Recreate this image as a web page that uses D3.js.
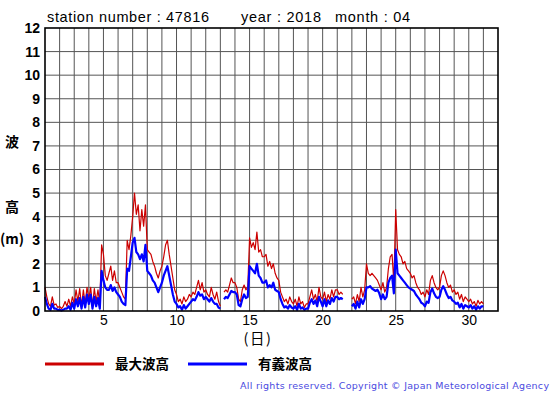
<!DOCTYPE html>
<html>
<head>
<meta charset="utf-8">
<script src="https://cdn.jsdelivr.net/npm/d3@7"></script>
<style>
  body { margin: 0; background: #fff; }
  svg { display: block; font-family: "Liberation Sans", Arial, Helvetica, sans-serif; }
</style>
</head>
<body>
<div id="chart"></div>
<script>
// 3-hourly samples, starting day 1 00:00 (8 per day)
let startDay = 1
let stepsPerDay = 8

let maxWave = [
    1.0, 0.6, 0.3, 0.2, 0.6, 0.25, 0.3, 0.15,
    0.2, 0.1, 0.2, 0.4, 0.2, 0.5, 0.2, 0.6,
    0.3, 0.9, 0.4, 0.95, 0.2, 0.9, 0.3, 1.0,
    0.5, 1.0, 0.2, 0.95, 0.4, 0.9, 0.3, 2.8,
    2.4, 1.5, 1.3, 1.6, 1.9, 1.3, 1.7, 1.2,
    1.2, 1.0, 0.8, 0.6, 0.5, 3.0, 2.6, 3.2,
    4.0, 5.0, 4.1, 4.5, 3.4, 4.3, 3.6, 4.5,
    2.6, 2.5, 2.4, 2.1, 1.9, 1.6, 1.4, 1.7,
    1.9, 2.3, 2.8, 3.0, 2.4, 1.9, 1.4, 0.9,
    0.7, 0.4, 0.5, 0.3, 0.6, 0.4, 0.5, 0.7,
    0.6, 0.8, 0.7, 1.0, 1.3, 0.9, 1.2, 0.8,
    0.9, 0.7, 0.6, 1.0, 0.7, 0.5, 0.8, 0.4,
    0.2, null, 0.8, 0.9, 0.8, 1.1, 1.4, 1.2,
    1.2, 1.0, 0.5, 0.4, 0.9, 1.1, 0.9, 1.0,
    3.1, 2.7, 2.9, 2.6, 3.35, 2.5, 2.6, 2.3,
    2.3, 2.4, 1.9, 2.1, 1.8, 2.0, 1.6, 1.4,
    1.3, 0.8, 0.6, 0.4, 0.5, 0.3, 0.6, 0.4,
    0.3, 0.5, 0.2, 0.6, 0.3, 0.4, 0.15, 0.3,
    0.3, 0.6, 0.9, 0.5, 0.7, 0.4, 1.0, 0.6,
    0.5, 0.8, 0.4, 0.7, 0.5, 0.9, 0.6, 0.9,
    0.9, 0.7, 0.8, 0.7, null, null, null, null,
    0.5, 0.6, 0.3, 0.7, 0.4, 1.0, 0.6, 0.9,
    2.0, 1.6, 1.5, 1.6, 1.5, 1.4, 1.3, 1.1,
    0.9, 1.2, 0.8, 1.0, 1.8, 2.3, 2.4, 1.2,
    4.3, 2.6, 2.4, 2.3, 2.0, 2.1, 1.8, 1.7,
    1.6, 1.4, 1.5, 1.2, 1.0, 0.9, 0.7, 0.8,
    0.6, 0.9, 0.7, 1.3, 1.5, 1.2, 1.0, 0.9,
    1.0, 1.5, 1.7, 1.5, 1.2, 1.0, 1.1, 0.8,
    0.9, 0.7, 0.8, 0.5, 0.7, 0.4, 0.6, 0.5,
    0.4, 0.5, 0.3, 0.4, 0.2, 0.45, 0.3, 0.4,
    0.3
]

let sigWave = [
    0.6, 0.3, 0.1, 0.05, 0.3, 0.1, 0.1, 0.05,
    0.05, 0.02, 0.05, 0.1, 0.1, 0.2, 0.05, 0.35,
    0.1, 0.5, 0.2, 0.55, 0.1, 0.6, 0.15, 0.7,
    0.3, 0.7, 0.1, 0.6, 0.2, 0.55, 0.1, 1.7,
    1.3, 1.0, 0.9, 0.9, 1.1, 0.85, 1.0, 0.8,
    0.7, 0.6, 0.4, 0.3, 0.25, 1.8, 1.7, 2.3,
    2.9, 3.1, 2.5, 2.4, 2.2, 2.4, 2.1, 2.8,
    1.7, 1.6, 1.5, 1.3, 1.2, 1.0, 0.8, 1.0,
    1.2, 1.5, 1.7, 1.9, 1.5, 1.1, 0.7, 0.4,
    0.3, 0.15, 0.2, 0.05, 0.25, 0.1, 0.2, 0.3,
    0.4, 0.5, 0.45, 0.6, 0.8, 0.65, 0.7, 0.5,
    0.6, 0.5, 0.4, 0.55, 0.4, 0.3, 0.3, 0.15,
    0.1, null, 0.5, 0.6, 0.55, 0.7, 0.85, 0.8,
    0.8, 0.7, 0.25, 0.2, 0.5, 0.7, 0.55, 0.6,
    1.9, 1.8, 1.7, 1.6, 2.0, 1.5, 1.4, 1.2,
    1.2, 1.3, 1.0, 1.1, 1.0, 1.2, 0.9, 0.85,
    0.8, 0.5, 0.3, 0.15, 0.2, 0.1, 0.25, 0.15,
    0.1, 0.2, 0.05, 0.3, 0.1, 0.15, 0.05, 0.1,
    0.1, 0.35, 0.5, 0.3, 0.45, 0.2, 0.6, 0.4,
    0.2, 0.5, 0.2, 0.45, 0.3, 0.55, 0.4, 0.6,
    0.6, 0.5, 0.55, 0.5, null, null, null, null,
    0.2, 0.3, 0.1, 0.4, 0.15, 0.5, 0.3, 0.5,
    1.0, 1.0, 1.05, 0.95, 0.9, 0.85, 0.9, 0.75,
    0.5, 0.7, 0.5, 0.6, 1.2, 1.4, 1.5, 0.75,
    2.6, 1.6, 1.5, 1.4, 1.3, 1.2, 1.1, 1.0,
    0.95, 0.9, 0.85, 0.7, 0.6, 0.5, 0.35, 0.3,
    0.2, 0.4, 0.35, 0.8, 0.95, 0.75, 0.6, 0.55,
    0.6, 0.9, 1.05, 0.9, 0.7, 0.55, 0.6, 0.45,
    0.4, 0.3, 0.35, 0.15, 0.3, 0.1, 0.25, 0.2,
    0.15, 0.25, 0.1, 0.2, 0.05, 0.2, 0.1, 0.2,
    0.2
]

let xTicks = [5, 10, 15, 20, 25, 30]
let yTicks = [0, 1, 2, 3, 4, 5, 6, 7, 8, 9, 10, 11, 12]
let dayDomain = [1, 32]
let heightDomain = [0, 12]

let titleParts = [
    { text: "station number : 47816", x: 47, w: 162 },
    { text: "year : 2018", x: 241, w: 80 },
    { text: "month : 04", x: 335, w: 75 }
]
let legendItems = [
    { label: "最大波高", color: "#cc0000" },
    { label: "有義波高", color: "#0000ff" }
]

let width = 555
let height = 395
let margin = { left: 45, top: 28, right: 57, bottom: 84 }
let innerwidth = width - margin.left - margin.right
let innerheight = height - margin.top - margin.bottom

let svg = d3.select('#chart')
    .append('svg')
    .attr("width", width)
    .attr("height", height)

svg.append("rect")
    .attr("width", width)
    .attr("height", height)
    .attr("fill", "#fff")

let x = d3.scaleLinear()
    .domain(dayDomain)
    .range([margin.left, margin.left + innerwidth])
let y = d3.scaleLinear()
    .domain(heightDomain)
    .range([margin.top + innerheight, margin.top])

// grid
let grid = svg.append("g")
grid.selectAll(".vgrid")
    .data(d3.range(dayDomain[0] + 1, dayDomain[1]))
    .enter()
    .append("line")
    .attr("x1", d => x(d))
    .attr("x2", d => x(d))
    .attr("y1", y(heightDomain[0]))
    .attr("y2", y(heightDomain[1]))
    .attr("stroke", "#555")
    .attr("stroke-width", 1)
grid.selectAll(".hgrid")
    .data(yTicks.slice(1, -1))
    .enter()
    .append("line")
    .attr("x1", x(dayDomain[0]))
    .attr("x2", x(dayDomain[1]))
    .attr("y1", d => y(d))
    .attr("y2", d => y(d))
    .attr("stroke", "#555")
    .attr("stroke-width", 1)

// series
function toPoints(values) {
    return values.map((v, i) => ({ t: startDay + i / stepsPerDay, v: v }))
}
let line = d3.line()
    .defined(d => d.v !== null)
    .x(d => x(d.t))
    .y(d => y(d.v))

svg.append("path")
    .datum(toPoints(maxWave))
    .attr("d", line)
    .attr("fill", "none")
    .attr("stroke", "#cc0000")
    .attr("stroke-width", 1.2)
    .attr("stroke-linejoin", "round")
svg.append("path")
    .datum(toPoints(sigWave))
    .attr("d", line)
    .attr("fill", "none")
    .attr("stroke", "#0000ff")
    .attr("stroke-width", 2.2)
    .attr("stroke-linejoin", "round")

// frame
svg.append("rect")
    .attr("x", x(dayDomain[0]))
    .attr("y", y(heightDomain[1]))
    .attr("width", x(dayDomain[1]) - x(dayDomain[0]))
    .attr("height", y(heightDomain[0]) - y(heightDomain[1]))
    .attr("fill", "none")
    .attr("stroke", "#000")
    .attr("stroke-width", 1.6)

// axes
let yAxis = svg.append("g")
    .attr("transform", "translate(" + margin.left + ",0)")
    .call(d3.axisLeft(y).tickValues(yTicks).tickSize(0).tickPadding(5).tickFormat(d3.format("d")))
yAxis.select(".domain").remove()
yAxis.selectAll("text")
    .attr("fill", "#000")
    .style("font-size", "14px")
    .style("font-weight", "bold")
    .style("font-family", "'Liberation Sans', Arial, sans-serif")

let xAxis = svg.append("g")
    .attr("transform", "translate(0," + (margin.top + innerheight) + ")")
    .call(d3.axisBottom(x).tickValues(xTicks).tickSize(0).tickPadding(4).tickFormat(d3.format("d")))
xAxis.select(".domain").remove()
xAxis.selectAll("text")
    .attr("fill", "#000")
    .style("font-size", "14px")
    .style("font-family", "'Liberation Sans', Arial, sans-serif")

// titles
svg.selectAll(".title")
    .data(titleParts)
    .enter()
    .append("text")
    .attr("x", d => d.x)
    .attr("y", 22)
    .attr("textLength", d => d.w)
    .attr("lengthAdjust", "spacing")
    .style("font-size", "14.5px")
    .text(d => d.text)

svg.append("text")
    .attr("x", 258)
    .attr("y", 344)
    .attr("text-anchor", "middle")
    .style("font-size", "14.5px")
    .style("letter-spacing", "1.5px")
    .style("font-family", "'Noto Sans CJK JP', sans-serif")
    .text("(日)")

let yLabel = [
    { text: "波", y: 142 },
    { text: "高", y: 207 },
    { text: "(m)", y: 239 }
]
svg.selectAll(".ylab")
    .data(yLabel)
    .enter()
    .append("text")
    .attr("x", 12)
    .attr("y", d => d.y)
    .attr("dy", "0.35em")
    .attr("text-anchor", "middle")
    .style("font-size", "14px")
    .style("font-weight", "bold")
    .style("font-family", "'Noto Sans CJK JP', sans-serif")
    .text(d => d.text)

// legend
let legend = svg.selectAll(".legend")
    .data(legendItems)
    .enter()
    .append("g")
    .attr("transform", (d, i) => "translate(" + (45 + i * 143) + ",364)")
legend.append("line")
    .attr("x1", 0)
    .attr("x2", 59)
    .attr("stroke", d => d.color)
    .attr("stroke-width", 2.8)
legend.append("text")
    .attr("x", 70)
    .attr("dy", "0.35em")
    .style("font-size", "13.5px")
    .style("font-weight", "bold")
    .style("font-family", "'Noto Sans CJK JP', sans-serif")
    .text(d => d.label)

svg.append("text")
    .attr("x", 240)
    .attr("y", 389)
    .attr("textLength", 309)
    .attr("lengthAdjust", "spacing")
    .style("font-size", "9.5px")
    .style("font-family", "'DejaVu Sans', sans-serif")
    .attr("fill", "#4a4ae0")
    .text("All rights reserved. Copyright © Japan Meteorological Agency")
</script>
</body>
</html>
